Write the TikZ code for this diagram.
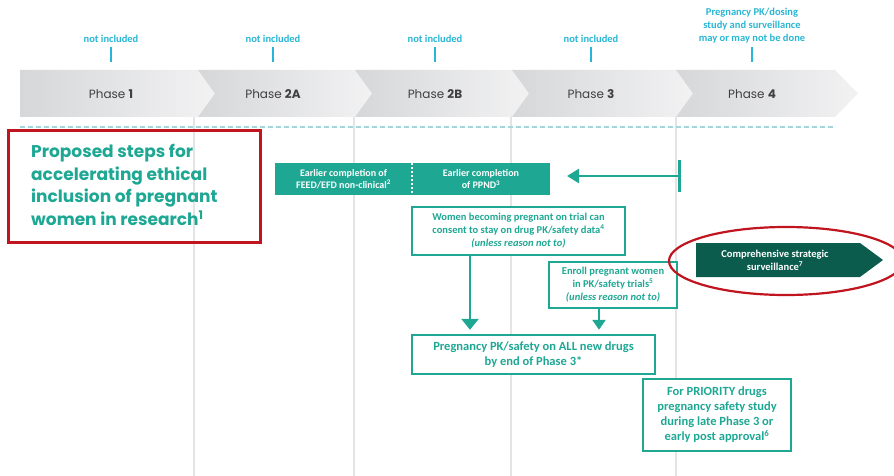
\documentclass[tikz,border=0pt]{standalone}
\usepackage{fontspec}
\setmainfont{Carlito}
\newfontfamily\gothic{Poppins}
\usetikzlibrary{arrows.meta}
\definecolor{boxteal}{RGB}{30,168,148}
\definecolor{labcyan}{RGB}{40,182,212}
\definecolor{survgreen}{RGB}{12,92,78}
\definecolor{framered}{RGB}{192,20,30}
\definecolor{barL}{RGB}{214,215,217}
\definecolor{barR}{RGB}{242,242,243}
\definecolor{phasegray}{RGB}{64,64,64}
\definecolor{gridgray}{RGB}{228,228,230}
\definecolor{dashcyan}{RGB}{160,216,222}

\begin{document}
\begin{tikzpicture}[x=1pt,y=-1pt]
	\tikzstyle{toplabel}=[text=labcyan,font=\bfseries\fontsize{10.5}{13}\selectfont,align=center,anchor=south,inner sep=1pt]
	\tikzstyle{phaselabel}=[text=phasegray,font=\gothic\fontsize{12}{14}\selectfont]
	\tikzstyle{tealbox}=[draw=boxteal,line width=2.4pt,fill=white,text=boxteal,align=center,inner sep=0pt,font=\bfseries\fontsize{10.5}{13}\selectfont]
	\tikzstyle{filledbox}=[fill=boxteal,text=white,align=center,inner sep=0pt,font=\bfseries\fontsize{10}{12.5}\selectfont]
	\tikzstyle{downarr}=[draw=boxteal,line width=2.6pt,-{Triangle[width=17pt,length=11pt]},shorten >=4pt]
	\useasboundingbox (0,0) rectangle (894,476);

	% grid lines under the phases
	\foreach \gx in {194,354,511,676}
		\draw[gridgray,line width=1.3pt] (\gx,117) -- (\gx,476);

	% phase chevrons
	\foreach \l/\r/\t/\x/\lab [count=\i] in {20/198/17/111/1,198/355/17/273/2A,355/512/17/435/2B,512/676/17/591/3,676/835/23/752/4}{
		\ifnum\i=1
			\shade[left color=barL,right color=barR] (\l,70) -- (\r,70) -- (\r+\t,93.5) -- (\r,117) -- (\l,117) -- cycle;
		\else
			\shade[left color=barL,right color=barR] (\l,70) -- (\r,70) -- (\r+\t,93.5) -- (\r,117) -- (\l,117) -- (\l+17,93.5) -- cycle;
		\fi
		\node[phaselabel] (ph\i) at (\x,94) {Phase \textbf{\lab}};
		\draw[labcyan,line width=1.6pt] (\x,47) -- (\x,62);
	}
	\node[toplabel] (top1) at (111,44) {not included};
	\node[toplabel] (top2) at (273,44) {not included};
	\node[toplabel] (top3) at (435,44) {not included};
	\node[toplabel] (top4) at (591,44) {not included};
	\node[toplabel] (top5) at (752,44) {Pregnancy PK/dosing\\study and surveillance\\may or may not be done};

	\draw[dashcyan,line width=1.3pt,dash pattern=on 5pt off 3pt] (20,127) -- (835,127);

	% title
	\draw[framered,line width=3pt] (8,131) rectangle (260,242);
	\node[anchor=west,align=left,text=boxteal,font=\gothic\bfseries\fontsize{17}{22.7}\selectfont,inner sep=0pt] (title) at (31,185) {Proposed steps for\\accelerating ethical\\inclusion of pregnant\\women in research\textsuperscript{1}};

	% steps
	\node[filledbox,minimum width=137pt,minimum height=32pt] (earlyA) at (343.5,179) {Earlier completion of\\FEED/EFD non-clinical\textsuperscript{2}};
	\node[filledbox,minimum width=138pt,minimum height=32pt] (earlyB) at (481,179) {Earlier completion\\of PPND\textsuperscript{3}};
	\draw[white,line width=1.6pt,dash pattern=on 2pt off 2pt] (earlyA.north east) -- (earlyA.south east);
	\coordinate (bk) at (681,176);
	\coordinate (bkend) at (567,176);
	\draw[boxteal,line width=2.6pt,{Bar[width=32pt]}-{Triangle[width=14pt,length=12pt]}] (bk) -- (bkend);

	\node[tealbox,minimum width=213pt,minimum height=48pt] (women) at (518.5,231) {Women becoming pregnant on trial can\\consent to stay on drug PK/safety data\textsuperscript{4}\\\textit{(unless reason not to)}};
	\node[tealbox,minimum width=128pt,minimum height=46pt] (enroll) at (613,285) {Enroll pregnant women\\in PK/safety trials\textsuperscript{5}\\\textit{(unless reason not to)}};
	\node[tealbox,minimum width=243pt,minimum height=39pt,font=\bfseries\fontsize{12.5}{15}\selectfont] (pkall) at (533.5,354.5) {Pregnancy PK/safety on ALL new drugs\\by end of Phase 3*};
	\node[tealbox,minimum width=148pt,minimum height=72pt,font=\bfseries\fontsize{12.5}{15}\selectfont] (priority) at (717,415) {For PRIORITY drugs\\pregnancy safety study\\during late Phase 3 or\\early post approval\textsuperscript{6}};
	\coordinate (a1) at (470,0);
	\coordinate (a2) at (599,0);
	\draw[downarr] (women.south -| a1) -- (pkall.north -| a1);
	\draw[downarr,-{Triangle[width=13pt,length=10pt]}] (enroll.south -| a2) -- (pkall.north -| a2);

	% surveillance
	\fill[survgreen] (696,243) -- (860,243) -- (883,260) -- (860,277) -- (696,277) -- cycle;
	\node[text=white,align=center,font=\bfseries\fontsize{10.5}{13}\selectfont] (surv) at (775,260) {Comprehensive strategic\\surveillance\textsuperscript{7}};
	\draw[framered,line width=2.2pt] (786,261) ellipse [x radius=117,y radius=34];
\end{tikzpicture}
\end{document}
